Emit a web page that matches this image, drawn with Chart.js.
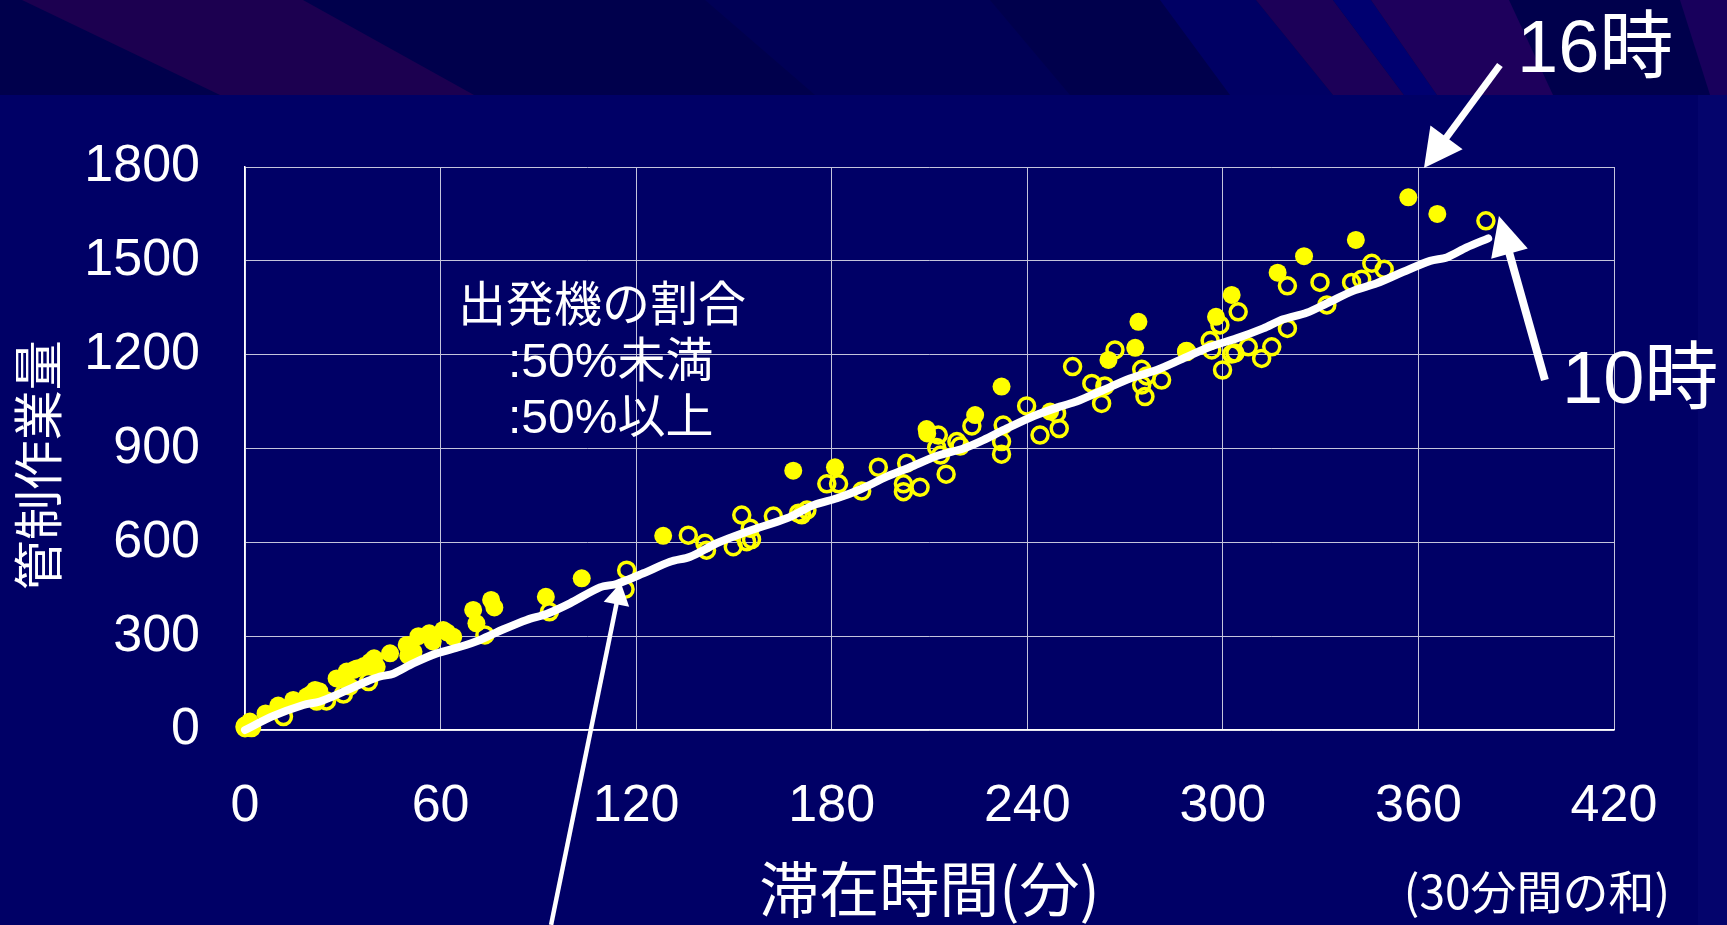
<!DOCTYPE html>
<html><head><meta charset="utf-8">
<script src="https://cdn.jsdelivr.net/npm/chart.js@4.4.0/dist/chart.umd.min.js"></script>
<style>html,body{margin:0;padding:0;background:#000066;overflow:hidden}#wrap{width:1727px;height:925px;position:relative}canvas{display:block}</style>
</head><body><div id="wrap"><canvas id="c" width="1727" height="925" style="width:1727px;height:925px"></canvas></div>
<script>
// ---- data ----
const xTicks = [0, 60, 120, 180, 240, 300, 360, 420];
const yTicks = [0, 300, 600, 900, 1200, 1500, 1800];
const xTitle = '滞在時間(分)';
const yTitle = '管制作業量';
const legendTitle = '出発機の割合';
const seriesLabels = [':50%未満', ':50%以上'];
const noteText = '(30分間の和)';
const hourLabels = ['16時', '10時'];

// filled markers
const under50 = [
  [0,5],[0,15],[1,20],[2,10],[1.5,27],[6.3,53],[10.2,78],[14.8,96],[18.9,107],[20.2,115],[21.5,128],[22.8,124],[22,90],
  [28.1,165],[31.2,187],[33.3,192],[32.2,139],[34.3,197],[36.5,205],[38.4,218],[39.6,229],[40.4,202],[44.5,245],
  [49.6,272],[50.1,238],[51.7,250],[53.2,300],[56.5,309],[57.6,283],[60.8,320],[62,312],[63.9,298],[70.0,384],
  [71.0,341],[75.5,416],[76.5,392],[92.3,426],[103.3,485],[128.3,621],[168.2,829],[181.0,840],[209.1,962],[209.3,948],
  [224.0,1007],[232.1,1098],[247.0,1018],[264.9,1183],[273.1,1222],[274.1,1305],[288.7,1212],[297.9,1321],[302.7,1391],
  [316.8,1462],[324.9,1515],[340.8,1567],[356.9,1703],[365.8,1650]
];
// open markers
const over50 = [
  [0,10],[2,8],[11.8,43],[25,93],[30.2,115],[37.9,155],[73.6,304],[93.4,378],[116.6,450],[117.1,511],[136.0,623],
  [141.1,597],[141.6,575],[149.8,586],[152.4,687],[153.9,602],[155.0,645],[155.4,609],[162.1,684],[169.8,693],[170.8,688],
  [172.4,703],[178.5,787],[182.1,787],[189.2,764],[194.3,840],[203.0,853],[202.0,787],[202.0,762],[207.1,776],[212.7,943],
  [212.2,903],[213.4,879],[215.1,818],[218.4,922],[219.4,908],[223.0,972],[232.6,975],[232.1,922],[232.1,882],[239.8,1036],
  [243.9,943],[249.0,1012],[249.8,964],[253.9,1162],[259.8,1108],[262.8,1044],[263.8,1100],[266.9,1215],[275.1,1153],
  [275.1,1103],[276.1,1066],[276.6,1132],[281.2,1119],[288.9,1210],[296.1,1245],[296.6,1215],[299.1,1295],[299.9,1151],
  [302.7,1202],[304.7,1337],[303.7,1205],[307.8,1225],[311.9,1188],[315.0,1225],[319.8,1420],[319.8,1284],[329.8,1431],
  [331.9,1359],[339.5,1431],[342.6,1441],[345.7,1492],[349.5,1473],[380.7,1628]
];
// white fitted line
const fitLine = [
  [0,0],[8.7,45],[17.9,80],[23,91],[29.1,117],[37.3,155],[41.4,171],[45.5,180],[51.6,213],[58.8,245],[66,266],[72.1,288],
  [79.3,322],[86.4,352],[92.5,371],[99.7,405],[108.9,456],[114,467],[122.2,501],[130.4,538],[136.6,554],[144.7,597],
  [153.9,634],[166.2,677],[174.4,719],[181.6,741],[188.7,769],[196.9,810],[204,840],[212.2,876],[220.4,900],[226.5,927],
  [233.7,964],[242,1004],[250,1034],[255.1,1050],[263.3,1087],[271.5,1124],[279.7,1151],[287.9,1188],[296.1,1225],
  [304.2,1252],[312.4,1284],[318.5,1313],[325.7,1334],[331.9,1364],[340,1404],[347.2,1428],[355.4,1465],[363.6,1500],
  [368.7,1511],[374.8,1543],[381.4,1572]
];

const toXY = a => a.map(p => ({x: p[0], y: p[1]}));

const bgPlugin = {
  id: 'bg',
  beforeDraw(chart) {
    const ctx = chart.ctx, W = chart.width, H = chart.height;
    ctx.save();
    ctx.fillStyle = '#000066'; ctx.fillRect(0, 0, W, H);
    ctx.fillStyle = '#00004c'; ctx.fillRect(0, 0, W, 95);
    const stripes = [
      ['#1c0050', 22, 303, 220, 474],
      ['#000056', 705, 990, 815, 1070],
      ['#000064', 1160, 1256, 1230, 1333],
      ['#1c0058', 1256, 1333, 1333, 1404],
      ['#000070', 1333, 1371, 1404, 1437],
      ['#1e005c', 1371, 1509, 1437, 1553],
      ['#18005c', 1680, 1727, 1710, 1727]
    ];
    for (const [c, t0, t1, b0, b1] of stripes) {
      ctx.fillStyle = c; ctx.beginPath();
      ctx.moveTo(t0, 0); ctx.lineTo(t1, 0); ctx.lineTo(b1, 95); ctx.lineTo(b0, 95);
      ctx.closePath(); ctx.fill();
    }
    ctx.fillStyle = '#04046c'; ctx.fillRect(1698, 95, 29, H - 95);
    ctx.restore();
  }
};

function arrow(ctx, x0, y0, x1, y1, w, hl, hw) {
  const dx = x1 - x0, dy = y1 - y0, L = Math.hypot(dx, dy), ux = dx / L, uy = dy / L;
  const bx = x1 - ux * hl, by = y1 - uy * hl;
  ctx.strokeStyle = '#fff'; ctx.fillStyle = '#fff'; ctx.lineWidth = w; ctx.lineCap = 'butt';
  ctx.beginPath(); ctx.moveTo(x0, y0); ctx.lineTo(bx + ux * 3, by + uy * 3); ctx.stroke();
  ctx.beginPath(); ctx.moveTo(x1, y1);
  ctx.lineTo(bx - uy * hw / 2, by + ux * hw / 2);
  ctx.lineTo(bx + uy * hw / 2, by - ux * hw / 2);
  ctx.closePath(); ctx.fill();
}

const annotPlugin = {
  id: 'annot',
  afterDraw(chart) {
    const {ctx} = chart; const sx = chart.scales.x, sy = chart.scales.y;
    const P = (vx, vy) => [sx.getPixelForValue(vx), sy.getPixelForValue(vy)];
    ctx.save();
    ctx.fillStyle = '#ffffff'; ctx.textAlign = 'left'; ctx.textBaseline = 'alphabetic';
    ctx.font = '48px "Liberation Sans", "Noto Sans CJK JP", sans-serif';
    ctx.fillText(legendTitle, 458, 321);
    ctx.fillText(seriesLabels[0], 508, 377);
    ctx.fillText(seriesLabels[1], 508, 433);
    ctx.font = '74px "Liberation Sans", "Noto Sans CJK JP", sans-serif';
    ctx.fillText(hourLabels[0], 1517, 72);
    ctx.fillText(hourLabels[1], 1562, 403);
    ctx.font = '46px "Noto Sans CJK JP", sans-serif';
    ctx.textAlign = 'right'; ctx.textBaseline = 'middle';
    ctx.fillText(noteText, 1670, 892);
    // arrows (data coordinates)
    let a = P(385.0, 2126), b = P(361.7, 1797);
    arrow(ctx, a[0], a[1], b[0], b[1], 7, 38, 40);
    a = P(398.8, 1119); b = P(384.7, 1643);
    arrow(ctx, a[0], a[1], b[0], b[1], 8, 39, 38);
    a = P(93.9, -623); b = P(115.3, 471);
    arrow(ctx, a[0], a[1], b[0], b[1], 4.5, 22, 26);
    ctx.restore();
  }
};

const gridColor = '#c4c4dc';
new Chart(document.getElementById('c'), {
  type: 'scatter',
  data: {
    datasets: [
      { label: 'fit', data: toXY(fitLine), showLine: true, borderColor: '#ffffff', borderWidth: 8,
        pointRadius: 0, tension: 0.3, borderCapStyle: 'round', borderJoinStyle: 'round', fill: false, order: 0, clip: false },
      { label: seriesLabels[0], data: toXY(under50), pointRadius: 9, pointBackgroundColor: '#ffff00',
        pointBorderColor: '#ffff00', pointBorderWidth: 0, order: 2, clip: false },
      { label: seriesLabels[1], data: toXY(over50), pointRadius: 8, pointBackgroundColor: 'rgba(0,0,0,0)',
        pointBorderColor: '#ffff00', pointBorderWidth: 3.5, order: 1, clip: false }
    ]
  },
  options: {
    responsive: false, animation: false, devicePixelRatio: 1, events: [],
    layout: { padding: { left: 0, top: 167, right: 113, bottom: 0 } },
    plugins: { legend: { display: false }, tooltip: { enabled: false } },
    scales: {
      x: {
        type: 'linear', min: xTicks[0], max: xTicks[xTicks.length - 1],
        afterBuildTicks: s => { s.ticks = xTicks.map(v => ({value: v})); },
        afterFit: s => { s.height = 195; },
        ticks: { color: '#ffffff', padding: 45, maxRotation: 0, autoSkip: false,
          callback: v => String(v),
          font: { family: '"Liberation Sans", Arial, sans-serif', size: 52 } },
        grid: { color: gridColor, lineWidth: 1, drawTicks: false },
        border: { color: '#ffffff', width: 1.5 },
        title: { display: true, text: xTitle, color: '#ffffff', padding: { top: 0, bottom: 0 },
          font: { family: '"Noto Sans CJK JP", sans-serif', size: 60 } }
      },
      y: {
        type: 'linear', min: yTicks[0], max: yTicks[yTicks.length - 1],
        afterBuildTicks: s => { s.ticks = yTicks.map(v => ({value: v})); },
        afterFit: s => { s.width = 245; },
        ticks: { color: '#ffffff', padding: 45, autoSkip: false,
          callback: v => String(v),
          font: { family: '"Liberation Sans", Arial, sans-serif', size: 52 } },
        grid: { color: gridColor, lineWidth: 1, drawTicks: false },
        border: { color: '#ffffff', width: 1.5 },
        title: { display: true, text: yTitle + '   ', color: '#ffffff', padding: { top: 8, bottom: 0 },
          font: { family: '"Noto Sans CJK JP", sans-serif', size: 50 } }
      }
    }
  },
  plugins: [bgPlugin, annotPlugin]
});
</script></body></html>
